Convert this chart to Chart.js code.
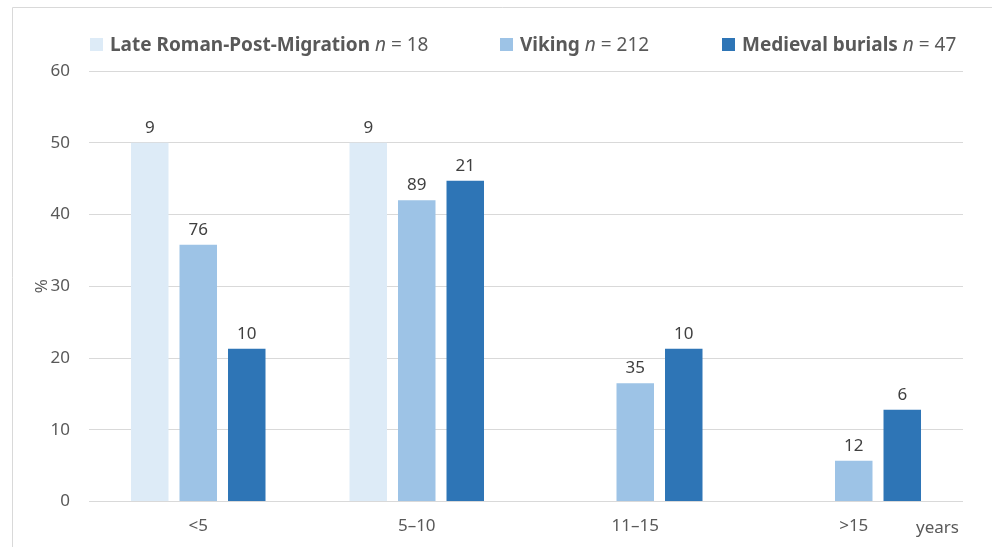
<!DOCTYPE html>
<html>
<head>
<meta charset="utf-8">
<script src="https://cdn.jsdelivr.net/npm/chart.js@4.4.1/dist/chart.umd.min.js"></script>
<style>
  html, body { margin: 0; padding: 0; background: #fff; }
  #wrap { width: 992px; height: 547px; position: relative; }
</style>
</head>
<body>
<div id="wrap"><canvas id="myChart"></canvas></div>
<script>
const categories = ["<5", "5\u201310", "11\u201315", ">15"];

// percentages
const lateRoman = [50, 50, null, null];
const viking = [35.8, 42.0, 16.5, 5.7];
const medieval = [21.3, 44.7, 21.3, 12.8];

// counts printed above the bars
const lateRomanCounts = [9, 9, null, null];
const vikingCounts = [76, 89, 35, 12];
const medievalCounts = [10, 21, 10, 6];

const seriesNames = ["Late Roman-Post-Migration", "Viking", "Medieval burials"];
const seriesN = [18, 212, 47];
const yTicks = [0, 10, 20, 30, 40, 50, 60];

const FONT = "'Noto Sans', sans-serif";
const TEXT = "#595959";
const colors = ["#ddebf7", "#9dc3e6", "#2e75b6"];

// frame round the chart
const framePlugin = {
  id: "frame",
  beforeDraw(chart) {
    const ctx = chart.ctx;
    ctx.save();
    ctx.strokeStyle = "#d9d9d9";
    ctx.lineWidth = 1;
    ctx.beginPath();
    ctx.moveTo(12.5, chart.height);
    ctx.lineTo(12.5, 7.5);
    ctx.lineTo(chart.width, 7.5);
    ctx.stroke();
    ctx.restore();
  },
};

// counts above each bar
const countLabels = {
  id: "countLabels",
  afterDatasetsDraw(chart) {
    const ctx = chart.ctx;
    ctx.save();
    ctx.font = "17px " + FONT;
    ctx.fillStyle = "#404040";
    ctx.textAlign = "center";
    ctx.textBaseline = "alphabetic";
    chart.data.datasets.forEach((ds, i) => {
      const meta = chart.getDatasetMeta(i);
      meta.data.forEach((bar, j) => {
        const c = ds.counts[j];
        if (c == null) return;
        ctx.fillText(String(c), bar.x, bar.y - 10);
      });
    });
    ctx.restore();
  },
};

// legend with bold name + italic n
const legendPlugin = {
  id: "mixedLegend",
  afterDraw(chart) {
    const ctx = chart.ctx;
    const starts = [90, 500, 722];
    const base = 51;
    ctx.save();
    ctx.textBaseline = "alphabetic";
    ctx.textAlign = "left";
    seriesNames.forEach((name, i) => {
      let x = starts[i];
      ctx.fillStyle = colors[i];
      ctx.fillRect(x, 38, 13, 13);
      x += 20;
      ctx.fillStyle = TEXT;
      ctx.font = "bold 19px " + FONT;
      ctx.fillText(name, x, base);
      x += ctx.measureText(name + " ").width;
      ctx.font = "italic 19px " + FONT;
      ctx.fillText("n", x, base);
      x += ctx.measureText("n ").width;
      ctx.font = "19px " + FONT;
      ctx.fillText("= " + seriesN[i], x, base);
    });
    // unit at the end of the x axis
    ctx.font = "17px " + FONT;
    ctx.textAlign = "right";
    ctx.fillText("years", chart.chartArea.right - 4, chart.chartArea.bottom + 31);
    ctx.restore();
  },
};

const ctx = document.getElementById("myChart");
new Chart(ctx, {
  type: "bar",
  data: {
    labels: categories,
    datasets: [
      { label: seriesNames[0], data: lateRoman, counts: lateRomanCounts, backgroundColor: colors[0] },
      { label: seriesNames[1], data: viking, counts: vikingCounts, backgroundColor: colors[1] },
      { label: seriesNames[2], data: medieval, counts: medievalCounts, backgroundColor: colors[2] },
    ],
  },
  options: {
    responsive: true,
    maintainAspectRatio: false,
    animation: false,
    categoryPercentage: 0.666,
    barPercentage: 0.773,
    layout: { padding: { top: 71, right: 29, bottom: 5, left: 0 } },
    plugins: {
      legend: { display: false },
      tooltip: { enabled: false },
    },
    scales: {
      x: {
        grid: { display: false },
        border: { display: false },
        ticks: { color: TEXT, font: { family: FONT, size: 17 }, padding: 6 },
      },
      y: {
        min: 0,
        max: 60,
        afterBuildTicks(scale) {
          scale.ticks = yTicks.map((v) => ({ value: v }));
        },
        afterFit(scale) {
          scale.width = 89;
        },
        grid: { color: "#d9d9d9", drawTicks: false },
        border: { display: false },
        ticks: { color: TEXT, font: { family: FONT, size: 17 }, padding: 19 },
        title: {
          display: true,
          text: "%",
          color: TEXT,
          font: { family: FONT, size: 17 },
          padding: { top: 32, bottom: 0 },
        },
      },
    },
  },
  plugins: [framePlugin, countLabels, legendPlugin],
});
</script>
</body>
</html>
